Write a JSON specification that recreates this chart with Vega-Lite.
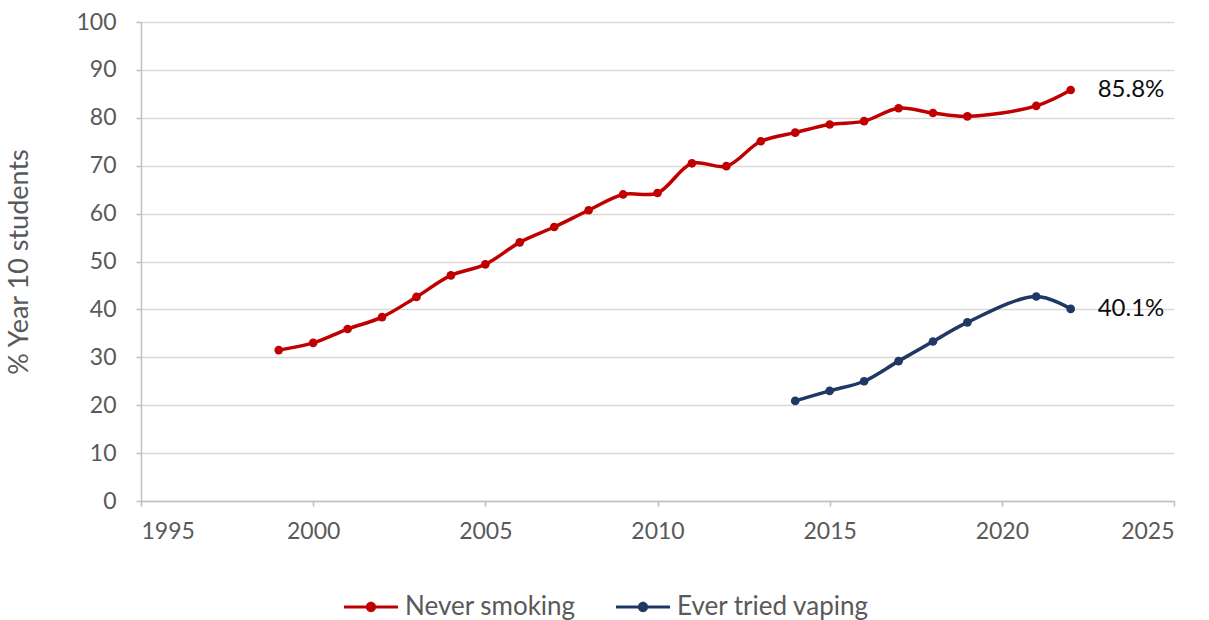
{
  "$schema": "https://vega.github.io/schema/vega-lite/v6.json",
  "width": 1033,
  "height": 479,
  "autosize": {"type": "none"},
  "padding": {"left": 141, "top": 22, "right": 35, "bottom": 119},
  "background": "white",
  "config": {
    "view": {"stroke": null},
    "font": "Lato",
    "axis": {
      "labelFont": "Lato",
      "titleFont": "Lato",
      "labelColor": "#595959",
      "titleColor": "#595959",
      "labelFontSize": 23,
      "titleFontSize": 27,
      "titleFontWeight": "normal",
      "domainColor": "#bfbfbf",
      "domainWidth": 1.5,
      "tickColor": "#bfbfbf",
      "tickWidth": 1.5,
      "gridColor": "#d9d9d9",
      "gridWidth": 1.5,
      "tickSize": 5
    }
  },
  "data": {
    "values": [
      {"year": 1999, "value": 31.5, "series": "Never smoking"},
      {"year": 2000, "value": 33.0, "series": "Never smoking"},
      {"year": 2001, "value": 35.9, "series": "Never smoking"},
      {"year": 2002, "value": 38.4, "series": "Never smoking"},
      {"year": 2003, "value": 42.6, "series": "Never smoking"},
      {"year": 2004, "value": 47.1, "series": "Never smoking"},
      {"year": 2005, "value": 49.4, "series": "Never smoking"},
      {"year": 2006, "value": 54.0, "series": "Never smoking"},
      {"year": 2007, "value": 57.2, "series": "Never smoking"},
      {"year": 2008, "value": 60.7, "series": "Never smoking"},
      {"year": 2009, "value": 64.0, "series": "Never smoking"},
      {"year": 2010, "value": 64.3, "series": "Never smoking"},
      {"year": 2011, "value": 70.5, "series": "Never smoking"},
      {"year": 2012, "value": 69.9, "series": "Never smoking"},
      {"year": 2013, "value": 75.1, "series": "Never smoking"},
      {"year": 2014, "value": 76.9, "series": "Never smoking"},
      {"year": 2015, "value": 78.6, "series": "Never smoking"},
      {"year": 2016, "value": 79.3, "series": "Never smoking"},
      {"year": 2017, "value": 82.0, "series": "Never smoking"},
      {"year": 2018, "value": 81.0, "series": "Never smoking"},
      {"year": 2019, "value": 80.3, "series": "Never smoking"},
      {"year": 2021, "value": 82.5, "series": "Never smoking"},
      {"year": 2022, "value": 85.8, "series": "Never smoking", "label": "85.8%"},
      {"year": 2014, "value": 20.9, "series": "Ever tried vaping"},
      {"year": 2015, "value": 23.0, "series": "Ever tried vaping"},
      {"year": 2016, "value": 25.0, "series": "Ever tried vaping"},
      {"year": 2017, "value": 29.2, "series": "Ever tried vaping"},
      {"year": 2018, "value": 33.3, "series": "Ever tried vaping"},
      {"year": 2019, "value": 37.3, "series": "Ever tried vaping"},
      {"year": 2021, "value": 42.7, "series": "Ever tried vaping"},
      {"year": 2022, "value": 40.1, "series": "Ever tried vaping", "label": "40.1%"}
    ]
  },
  "encoding": {
    "x": {
      "field": "year",
      "type": "quantitative",
      "scale": {"domain": [1995, 2025], "nice": false, "zero": false},
      "axis": {"values": [1995, 2000, 2005, 2010, 2015, 2020, 2025], "format": "d", "grid": false, "title": null, "labelPadding": 14}
    },
    "y": {
      "field": "value",
      "type": "quantitative",
      "scale": {"domain": [0, 100], "nice": false},
      "axis": {"values": [0, 10, 20, 30, 40, 50, 60, 70, 80, 90, 100], "title": "% Year 10 students", "labelPadding": 20, "titlePadding": 42}
    },
    "color": {
      "field": "series",
      "type": "nominal",
      "scale": {"domain": ["Never smoking", "Ever tried vaping"], "range": ["#C00000", "#1F3864"]},
      "legend": {
        "title": null,
        "orient": "none",
        "legendX": 203,
        "legendY": 558,
        "direction": "horizontal",
        "labelFont": "Lato",
        "labelFontSize": 26,
        "labelColor": "#595959",
        "labelLimit": 400,
        "symbolType": "M-1,-0.06H1V0.06H-1Z M0.19,0 A0.19,0.19 0 1,1 -0.19,0 A0.19,0.19 0 1,1 0.19,0Z",
        "symbolSize": 2916,
        "symbolStrokeWidth": 0,
        "labelOffset": 7,
        "columnPadding": 40,
        "encode": {"symbols": {"update": {"fill": {"scale": "color", "field": "value"}, "fillOpacity": {"value": 1}, "strokeWidth": {"value": 0}}}}
      }
    }
  },
  "layer": [
    {
      "mark": {"type": "line", "interpolate": "catmull-rom", "strokeWidth": 3.5},
      "encoding": {"detail": {"field": "series"}}
    },
    {
      "mark": {"type": "point", "filled": true, "size": 75, "opacity": 1},
      "encoding": {}
    },
    {
      "transform": [{"filter": "datum.label != null"}],
      "mark": {"type": "text", "align": "left", "dx": 27, "fontSize": 24, "font": "Lato", "color": "#0d0d0d"},
      "encoding": {"text": {"field": "label"}, "color": {"value": "#0d0d0d"}}
    }
  ]
}
